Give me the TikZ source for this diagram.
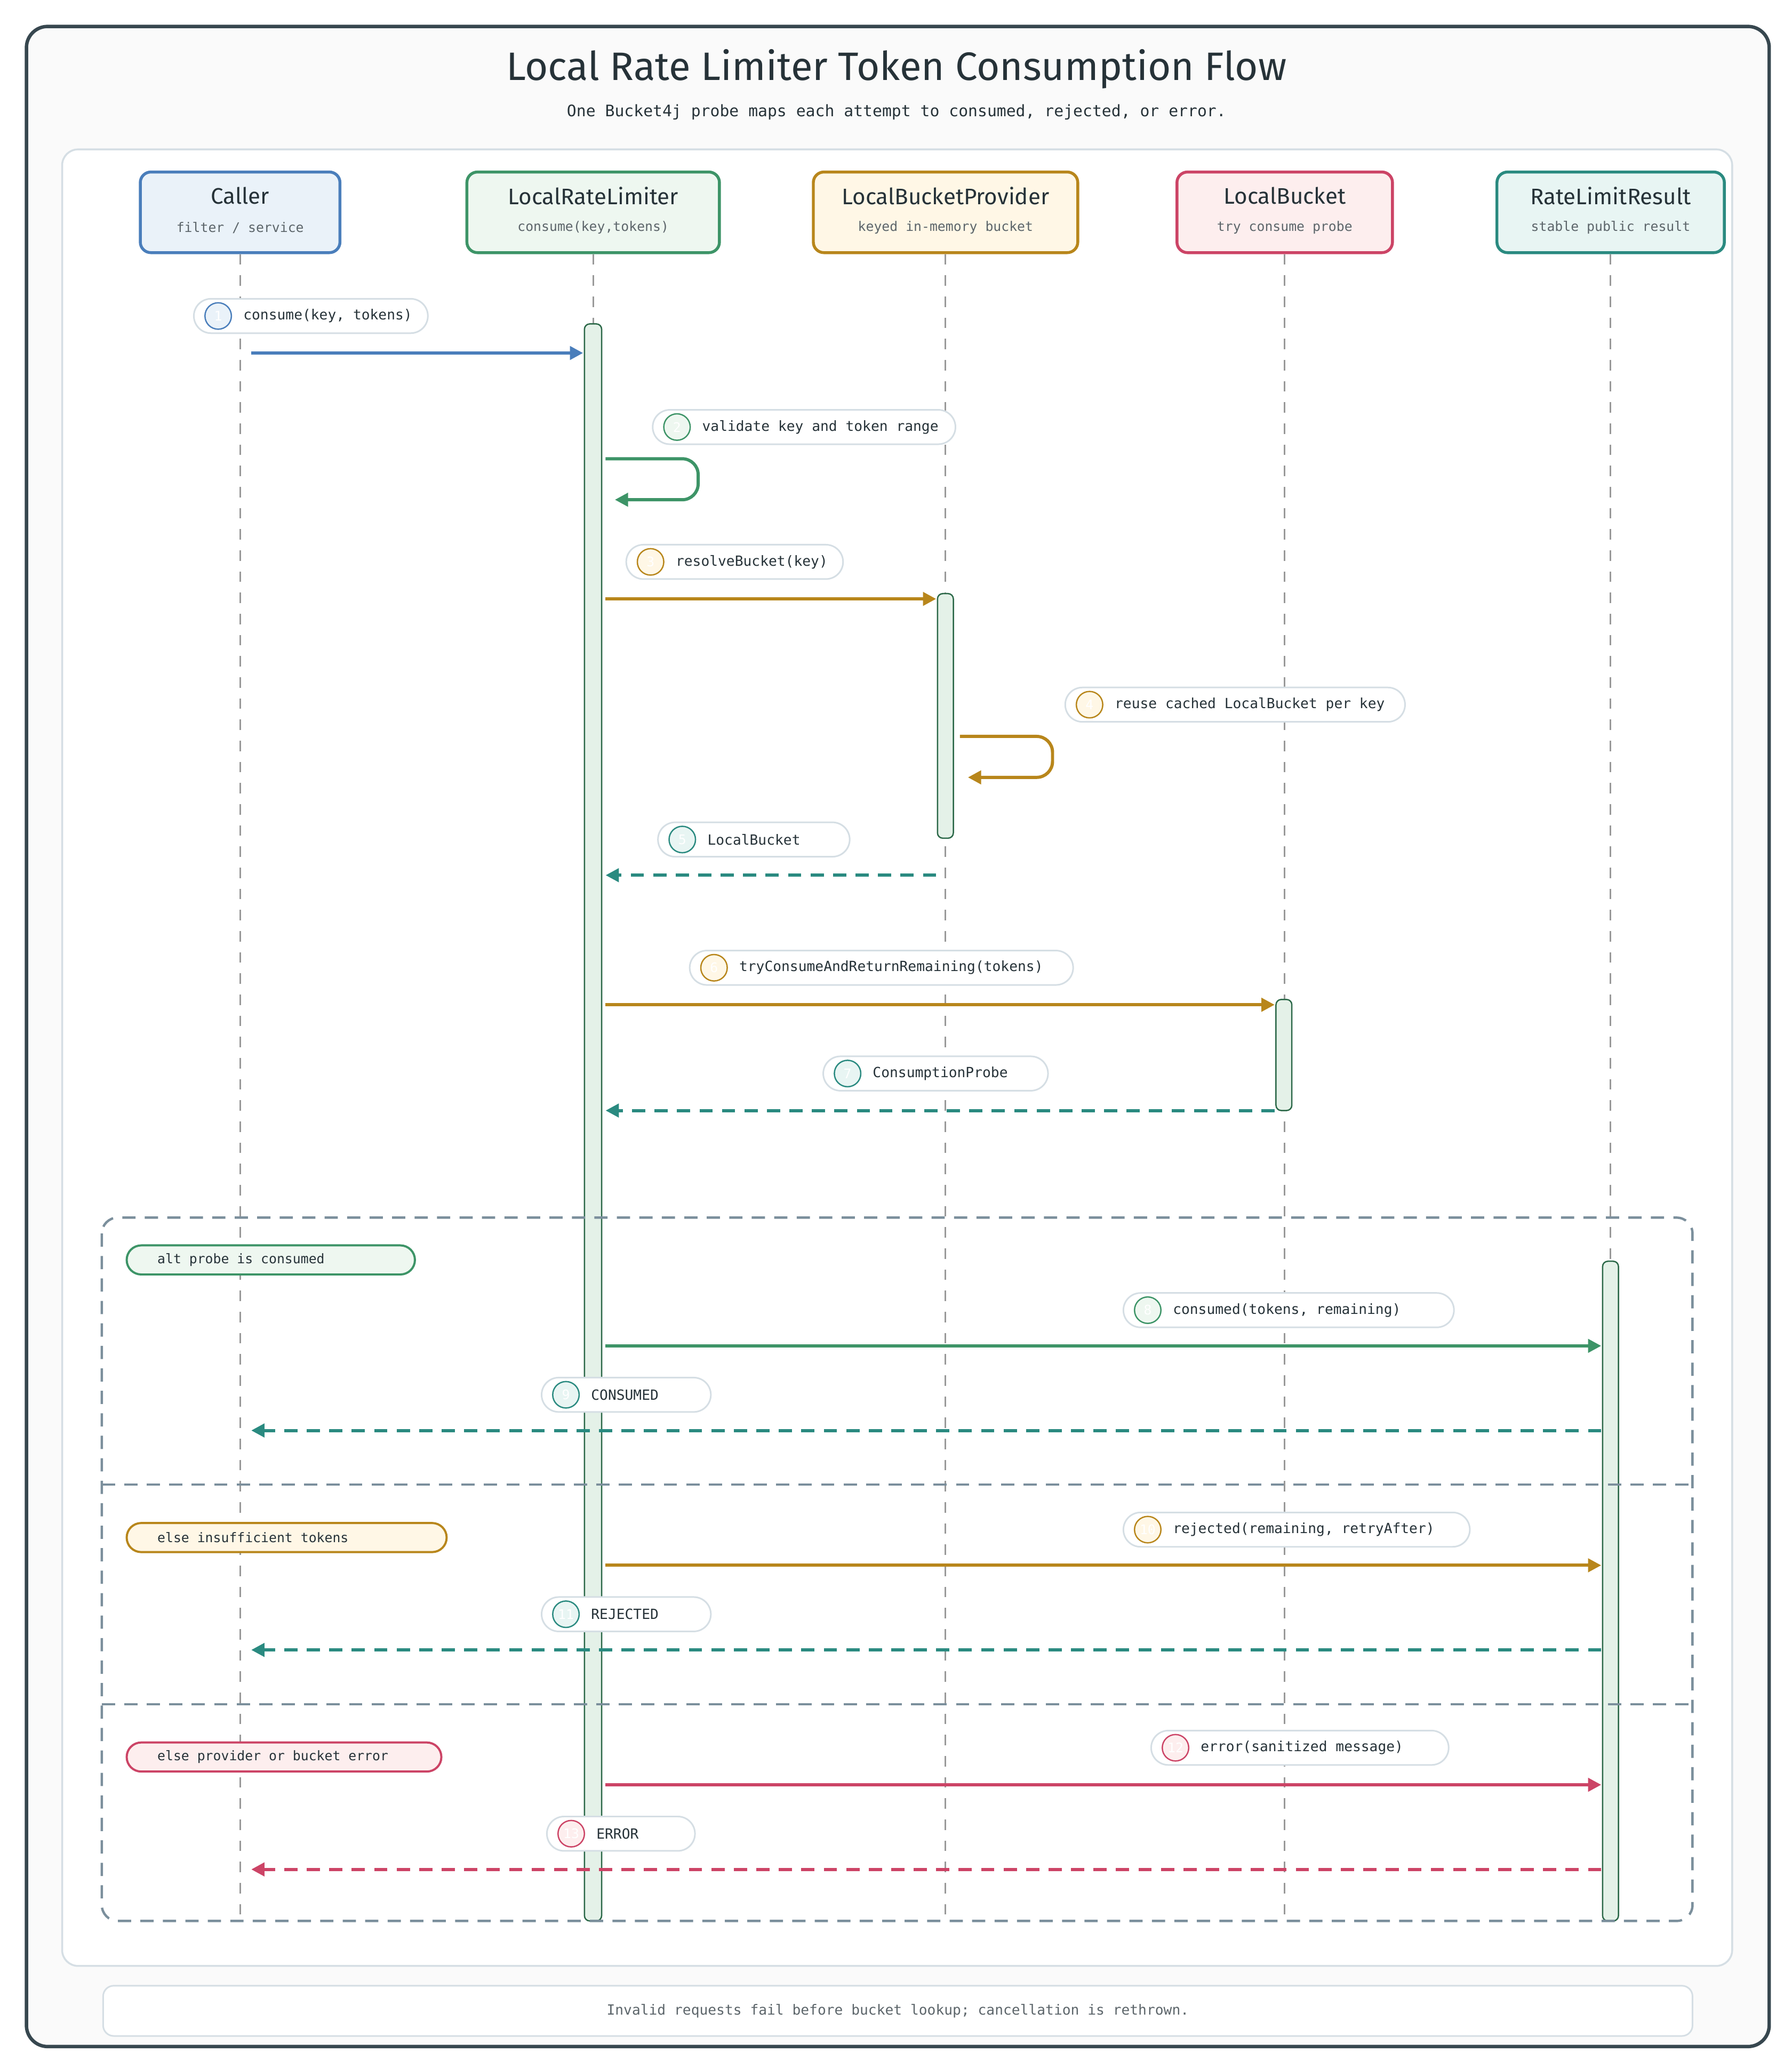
\documentclass[tikz,border=0pt]{standalone}
\usepackage{fontspec}
\setmainfont{Fira Sans}
\newfontfamily\monofont{DejaVu Sans Mono}
\usetikzlibrary{arrows.meta,positioning}

\definecolor{ink}{HTML}{263238}
\definecolor{frame}{HTML}{37474F}
\definecolor{altline}{HTML}{7B8F9C}
\definecolor{soft}{HTML}{D5DEE4}
\definecolor{cblue}{HTML}{4A7EBB}  \definecolor{fblue}{HTML}{EAF2F9}
\definecolor{cgreen}{HTML}{3D9467} \definecolor{fgreen}{HTML}{EEF7F0}
\definecolor{corange}{HTML}{B8861B}\definecolor{forange}{HTML}{FFF7E6}
\definecolor{cred}{HTML}{CC4466}   \definecolor{fred}{HTML}{FDEEEE}
\definecolor{cteal}{HTML}{2A8A80}  \definecolor{fteal}{HTML}{E8F5F3}
\definecolor{act}{HTML}{E4F1E8}

\tikzset{
  actor/.style={draw=c#1, fill=f#1, line width=1.1pt, rounded corners=4pt,
    minimum height=30.5pt, anchor=north west},
  life/.style={gray!80, line width=0.6pt, dash pattern=on 4pt off 4pt},
  bar/.style={draw=cgreen!70!black, fill=act, line width=0.5pt, rounded corners=2pt},
  call/.style={draw=#1, line width=1.2pt, -{Triangle[length=5pt,width=5pt]}},
  reply/.style={call=#1, dash pattern=on 5pt off 3.5pt},
  tag/.style={draw=soft, fill=white, line width=0.6pt, rounded corners=6.5pt,
    minimum height=13pt, anchor=west, inner sep=0pt},
  num/.style={circle, draw=c#1, fill=f#1, line width=0.5pt, minimum size=10pt,
    inner sep=0pt, text=white, font=\monofont\fontsize{5}{6}\selectfont},
  lbl/.style={anchor=west, text=ink, font=\monofont\fontsize{5.3}{7}\selectfont},
  guard/.style={draw=c#1, fill=f#1, line width=0.8pt, rounded corners=5.5pt,
    minimum height=11pt, anchor=west, inner sep=0pt},
  altdash/.style={altline, line width=0.9pt, dash pattern=on 5pt off 3.5pt},
}

% pill with number: name, x1, x2, y, colour, number, text
\newcommand\msgtag[7]{%
  \node[tag, minimum width={(#3-#2)*0.5pt}] (#1) at (#2,#4) {};
  \node[num=#5] (#1n) at (#2+19,#4) {#6};
  \node[lbl] (#1t) at (#2+31,#4) {#7};
}

\begin{document}
\begin{tikzpicture}[x=0.5pt, y=-0.5pt]

  \useasboundingbox (0,0) rectangle (1355,1565);
  \draw[frame, fill=black!2!white, line width=1.3pt, rounded corners=8pt] (20,20) rectangle (1338,1548);
  \draw[soft, fill=white, line width=0.7pt, rounded corners=6pt] (47,113) rectangle (1310,1487);

  \node[text=ink, font=\fontsize{15}{18}\selectfont] (title) at (678,52) {Local Rate Limiter Token Consumption Flow};
  \node[text=ink, font=\monofont\fontsize{6}{7}\selectfont] (subtitle) at (678,85) {One Bucket4j probe maps each attempt to consumed, rejected, or error.};

  % participants
  \node[actor=blue,   minimum width=75.5pt]  (caller)   at (105,129) {};
  \node[actor=green,  minimum width=95.5pt]  (limiter)  at (352,129) {};
  \node[actor=orange, minimum width=100pt]   (provider) at (614,129) {};
  \node[actor=red,    minimum width=81.5pt]  (bucket)   at (889,129) {};
  \node[actor=teal,   minimum width=86pt]    (result)   at (1131,129) {};

  \foreach \p/\t/\s in {caller/Caller/{filter / service}, limiter/LocalRateLimiter/consume(key{,}tokens),
      provider/LocalBucketProvider/keyed in-memory bucket, bucket/LocalBucket/try consume probe,
      result/RateLimitResult/stable public result} {
    \node[text=ink, font=\fontsize{8.5}{10}\selectfont] at ([yshift=-9.5pt]\p.north) {\t};
    \node[text=ink!75, font=\monofont\fontsize{5}{6}\selectfont] at ([yshift=10pt]\p.south) {\s};
    \draw[life] (\p.south) -- (\p.south |- 0,1453);
  }

  % activations
  \draw[bar] (442,245) rectangle (455,1453);
  \draw[bar] (709,449) rectangle (721,634);
  \draw[bar] (965,756) rectangle (977,840);
  \draw[bar] (1212,954) rectangle (1224,1453);

  % alt frame
  \draw[altdash, rounded corners=6pt] (77,921) rectangle (1280,1453);
  \draw[altdash] (77,1123) -- (1280,1123);
  \draw[altdash] (77,1289) -- (1280,1289);

  \node[guard=green,  minimum width=109pt] (g1) at (95,953) {};
  \node[lbl, font=\monofont\fontsize{5}{6}\selectfont] at (112,953) {alt probe is consumed};
  \node[guard=orange, minimum width=121pt] (g2) at (95,1163) {};
  \node[lbl, font=\monofont\fontsize{5}{6}\selectfont] at (112,1163) {else insufficient tokens};
  \node[guard=red,    minimum width=119pt] (g3) at (95,1329) {};
  \node[lbl, font=\monofont\fontsize{5}{6}\selectfont] at (112,1329) {else provider or bucket error};

  % messages
  \coordinate (m1a) at (190,267);   \coordinate (m1b) at (441,267);
  \msgtag{t1}{146}{323}{239}{blue}{1}{consume(key, tokens)}
  \draw[call=cblue] (m1a) -- (m1b);

  \msgtag{t2}{493}{722}{323}{green}{2}{validate key and token range}
  \coordinate (m2a) at (458,347);   \coordinate (m2b) at (465,378);
  \draw[call=cgreen, rounded corners=6pt] (m2a) -- (528,347) -- (528,378) -- (m2b);

  \msgtag{t3}{473}{637}{425}{orange}{3}{resolveBucket(key)}
  \coordinate (m3a) at (458,453);   \coordinate (m3b) at (708,453);
  \draw[call=corange] (m3a) -- (m3b);

  \msgtag{t4}{805}{1062}{533}{orange}{4}{reuse cached LocalBucket per key}
  \coordinate (m4a) at (726,557);   \coordinate (m4b) at (732,588);
  \draw[call=corange, rounded corners=6pt] (m4a) -- (796,557) -- (796,588) -- (m4b);

  \msgtag{t5}{497}{642}{635}{teal}{5}{LocalBucket}
  \coordinate (m5a) at (708,662);   \coordinate (m5b) at (458,662);
  \draw[reply=cteal] (m5a) -- (m5b);

  \msgtag{t6}{521}{811}{732}{orange}{6}{tryConsumeAndReturnRemaining(tokens)}
  \coordinate (m6a) at (458,760);   \coordinate (m6b) at (964,760);
  \draw[call=corange] (m6a) -- (m6b);

  \msgtag{t7}{622}{792}{812}{teal}{7}{ConsumptionProbe}
  \coordinate (m7a) at (964,840);   \coordinate (m7b) at (458,840);
  \draw[reply=cteal] (m7a) -- (m7b);

  \msgtag{t8}{849}{1099}{991}{green}{8}{consumed(tokens, remaining)}
  \coordinate (m8a) at (458,1018);  \coordinate (m8b) at (1211,1018);
  \draw[call=cgreen] (m8a) -- (m8b);

  \msgtag{t9}{409}{537}{1055}{teal}{9}{CONSUMED}
  \coordinate (m9a) at (1211,1082); \coordinate (m9b) at (190,1082);
  \draw[reply=cteal] (m9a) -- (m9b);

  \msgtag{t10}{849}{1111}{1157}{orange}{10}{rejected(remaining, retryAfter)}
  \coordinate (m10a) at (458,1184); \coordinate (m10b) at (1211,1184);
  \draw[call=corange] (m10a) -- (m10b);

  \msgtag{t11}{409}{537}{1221}{teal}{11}{REJECTED}
  \coordinate (m11a) at (1211,1248); \coordinate (m11b) at (190,1248);
  \draw[reply=cteal] (m11a) -- (m11b);

  \msgtag{t12}{870}{1095}{1322}{red}{12}{error(sanitized message)}
  \coordinate (m12a) at (458,1350); \coordinate (m12b) at (1211,1350);
  \draw[call=cred] (m12a) -- (m12b);

  \msgtag{t13}{413}{525}{1387}{red}{13}{ERROR}
  \coordinate (m13a) at (1211,1414); \coordinate (m13b) at (190,1414);
  \draw[reply=cred] (m13a) -- (m13b);

  % footer
  \draw[soft, fill=white, line width=0.6pt, rounded corners=4pt] (78,1502) rectangle (1280,1540);
  \node[text=ink!75, font=\monofont\fontsize{5.3}{7}\selectfont] (note) at (679,1521) {Invalid requests fail before bucket lookup; cancellation is rethrown.};

\end{tikzpicture}
\end{document}
